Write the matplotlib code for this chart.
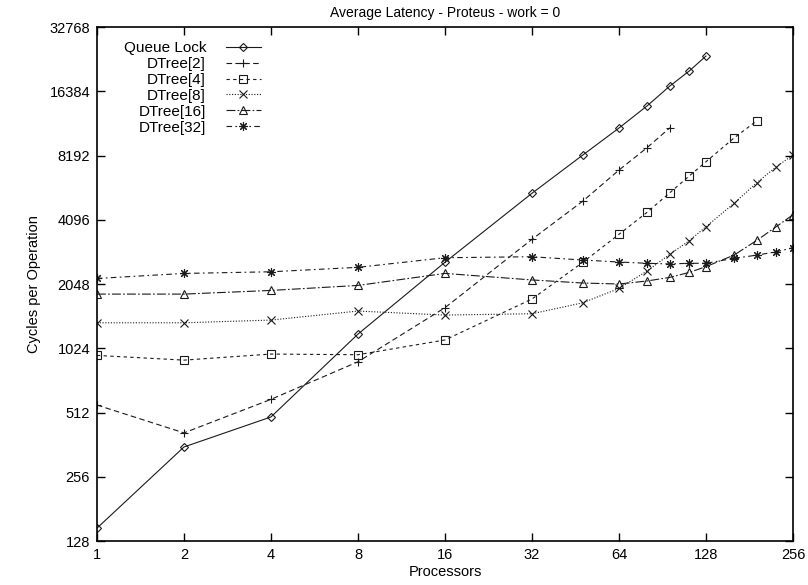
import matplotlib.pyplot as plt
from matplotlib.ticker import FixedLocator, NullLocator

plt.rcParams['font.family'] = ['Liberation Sans', 'DejaVu Sans']

# latency measurements (cycles per operation) vs. processor count
procs_ql = [1, 2, 4, 8, 16, 32, 48, 64, 80, 96, 112, 128]
queue_lock = [147, 353, 488, 1193, 2590, 5450, 8240, 11020, 13980, 17340, 20390, 23960]

procs_d2 = [1, 2, 4, 8, 16, 32, 48, 64, 80, 96]
dtree2 = [555, 411, 590, 885, 1586, 3317, 5011, 7000, 8910, 11050]

procs_d4 = [1, 2, 4, 8, 16, 32, 48, 64, 80, 96, 112, 128, 160, 192]
dtree4 = [948, 901, 962, 955, 1120, 1742, 2589, 3500, 4436, 5484, 6567, 7660, 9895, 11920]

procs_big = [1, 2, 4, 8, 16, 32, 48, 64, 80, 96, 112, 128, 160, 192, 224, 256]
dtree8 = [1348, 1348, 1388, 1530, 1465, 1486, 1673, 1953, 2355, 2822, 3267, 3800, 4889, 6108, 7255, 8236]
dtree16 = [1837, 1837, 1911, 2017, 2296, 2140, 2070, 2048, 2116, 2200, 2321, 2470, 2797, 3281, 3800, 4325]
dtree32 = [2174, 2296, 2337, 2452, 2720, 2749, 2653, 2597, 2561, 2543, 2561, 2561, 2702, 2797, 2900, 3029]

xticks = [1, 2, 4, 8, 16, 32, 64, 128, 256]
yticks = [128, 256, 512, 1024, 2048, 4096, 8192, 16384, 32768]

fig = plt.figure(figsize=(8.08, 5.85), dpi=100)
ax = fig.add_axes([0.12, 0.0752, 0.8614, 0.8786])

ink = '#1a1a1a'
lw = 0.8
ax.plot(procs_ql, queue_lock, color=ink, lw=lw, ls='-', marker='D', ms=4.5,
        mfc='none', mew=0.8, label='Queue Lock')
ax.plot(procs_d2, dtree2, color=ink, lw=lw, ls=(0, (5, 3)), marker='+', ms=6,
        mew=0.8, label='DTree[2]')
ax.plot(procs_d4, dtree4, color=ink, lw=lw, ls=(0, (3, 3)), marker='s', ms=5.5,
        mfc='none', mew=0.8, label='DTree[4]')
ax.plot(procs_big, dtree8, color=ink, lw=lw, ls=(0, (1, 1.5)), marker='x', ms=6,
        mew=0.8, label='DTree[8]')
ax.plot(procs_big, dtree16, color=ink, lw=lw, ls=(0, (8, 2, 1.5, 2)), marker='^', ms=6,
        mfc='none', mew=0.8, label='DTree[16]')
ax.plot(procs_big, dtree32, color=ink, lw=lw, ls=(0, (5, 3, 1.5, 3)), marker=(8, 2, 0),
        ms=6.5, mew=0.8, label='DTree[32]')

ax.set_xscale('log', base=2)
ax.set_yscale('log', base=2)
ax.set_xlim(1, 256)
ax.set_ylim(128, 32768)
ax.xaxis.set_major_locator(FixedLocator(xticks))
ax.yaxis.set_major_locator(FixedLocator(yticks))
ax.xaxis.set_minor_locator(NullLocator())
ax.yaxis.set_minor_locator(NullLocator())
ax.set_xticklabels([str(v) for v in xticks])
ax.set_yticklabels([str(v) for v in yticks])
ax.tick_params(direction='in', length=6, width=1, labelsize=10.5,
               top=True, right=True, pad=5)
for sp in ax.spines.values():
    sp.set_linewidth(1.2)

ax.set_title('Average Latency - Proteus - work = 0', fontsize=10, pad=7)
ax.set_xlabel('Processors', fontsize=10.5, labelpad=2)
ax.set_ylabel('Cycles per Operation', fontsize=10.5, labelpad=6)

leg = ax.legend(loc='upper left', bbox_to_anchor=(0.025, 0.99), frameon=False,
                markerfirst=False, fontsize=11, handlelength=2.3,
                labelspacing=0.12, handletextpad=1.3, borderaxespad=0.2)
for t in leg.get_texts():
    t.set_ha('right')
leg._legend_box.align = 'right'

fig.savefig('out.png', dpi=100)
